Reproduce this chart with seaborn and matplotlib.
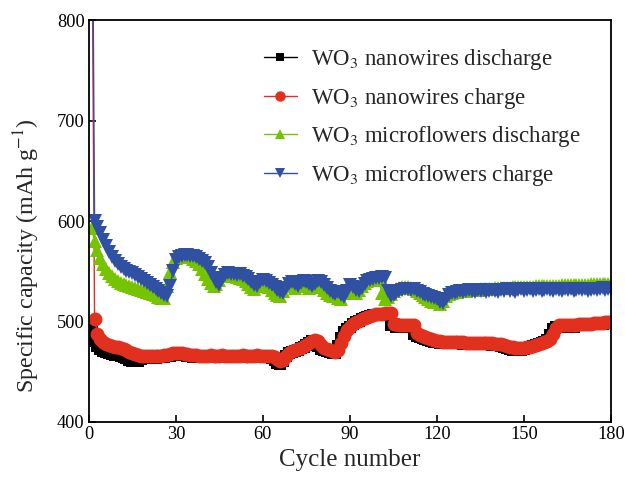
import matplotlib
matplotlib.use("Agg")
import matplotlib.pyplot as plt
import seaborn as sns
import numpy as np
import pandas as pd

cycles = list(range(1, 181))

nano_discharge = [
    492, 481, 476, 473, 471, 470, 469, 468, 467, 467,
    466, 465, 464, 462, 461, 461, 461, 463, 464, 464,
    464, 464, 464, 465, 465, 465, 466, 466, 467, 467,
    467, 467, 467, 466, 466, 465, 465, 465, 465, 465,
    465, 465, 465, 465, 465, 465, 465, 465, 465, 465,
    465, 465, 465, 465, 465, 465, 465, 465, 465, 465,
    465, 465, 464, 462, 459, 458, 461, 466, 469, 470,
    471, 472, 474, 475, 477, 479, 481, 480, 476, 473,
    472, 471, 470, 469, 469, 476, 484, 490, 493, 495,
    497, 499, 500, 502, 503, 504, 505, 506, 506, 506,
    507, 507, 507, 496, 496, 495, 495, 495, 495, 495,
    495, 488, 486, 485, 484, 483, 482, 481, 480, 480,
    479, 479, 479, 479, 479, 479, 479, 479, 478, 478,
    478, 478, 478, 478, 478, 478, 478, 478, 477, 477,
    477, 476, 475, 474, 473, 472, 472, 472, 472, 473,
    474, 475, 476, 477, 478, 479, 480, 482, 487, 493,
    495, 495, 495, 495, 495, 495, 495, 496, 496, 496,
    496, 496, 497, 497, 497, 497, 497, 498, 498, 498,
]

nano_charge = [
    950, 502, 488, 483, 480, 478, 477, 476, 475, 475,
    474, 473, 472, 470, 469, 468, 467, 466, 466, 466,
    466, 466, 466, 466, 466, 467, 467, 468, 469, 469,
    469, 469, 468, 468, 467, 467, 467, 466, 466, 466,
    466, 467, 466, 466, 466, 467, 466, 466, 466, 466,
    466, 466, 467, 466, 466, 466, 466, 467, 466, 466,
    466, 466, 466, 465, 463, 461, 462, 466, 469, 471,
    472, 473, 474, 476, 477, 479, 481, 482, 481, 477,
    474, 473, 472, 471, 470, 472, 479, 486, 492, 495,
    497, 499, 500, 502, 503, 504, 505, 506, 507, 507,
    507, 508, 508, 508, 497, 497, 496, 496, 496, 496,
    496, 496, 489, 487, 486, 485, 484, 483, 482, 481,
    481, 480, 480, 480, 480, 480, 480, 480, 480, 479,
    479, 479, 479, 479, 479, 479, 479, 479, 479, 478,
    478, 478, 477, 476, 475, 475, 474, 474, 474, 474,
    475, 475, 476, 477, 478, 479, 480, 481, 483, 488,
    494, 496, 496, 496, 496, 496, 496, 496, 497, 497,
    497, 497, 497, 498, 498, 498, 498, 499, 499, 499,
]

micro_discharge = [
    593, 580, 571, 563, 557, 552, 548, 545, 542, 540,
    538, 537, 536, 535, 534, 533, 532, 531, 530, 529,
    528, 527, 526, 524, 523, 523, 535, 549, 559, 563,
    565, 565, 565, 564, 564, 562, 560, 557, 552, 547,
    542, 538, 535, 537, 541, 545, 546, 546, 545, 545,
    544, 543, 542, 540, 537, 534, 532, 535, 538, 539,
    537, 534, 531, 528, 526, 525, 530, 535, 537, 535,
    533, 536, 538, 537, 535, 533, 535, 538, 537, 534,
    531, 528, 526, 525, 527, 523, 522, 528, 534, 532,
    529, 528, 531, 535, 538, 540, 541, 542, 542, 541,
    528, 522, 524, 527, 530, 532, 533, 534, 534, 534,
    533, 532, 530, 528, 526, 524, 522, 520, 519, 519,
    517, 520, 525, 527, 528, 529, 529, 530, 530, 530,
    531, 531, 531, 531, 532, 532, 532, 532, 532, 533,
    533, 533, 533, 533, 533, 534, 534, 534, 534, 534,
    534, 534, 534, 535, 535, 535, 535, 535, 535, 535,
    535, 535, 536, 536, 536, 536, 536, 536, 536, 536,
    536, 536, 537, 537, 537, 537, 537, 537, 537, 537,
]

micro_charge = [
    1050, 600, 594, 588, 581, 575, 569, 564, 560, 557,
    554, 552, 550, 549, 548, 546, 544, 542, 540, 538,
    536, 534, 532, 530, 528, 526, 525, 535, 550, 561,
    564, 565, 566, 566, 565, 565, 564, 562, 560, 558,
    554, 548, 543, 539, 536, 542, 546, 548, 547, 547,
    546, 547, 545, 544, 542, 539, 536, 535, 539, 541,
    540, 538, 536, 534, 531, 529, 528, 533, 537, 539,
    537, 535, 538, 540, 539, 537, 535, 537, 540, 539,
    536, 533, 530, 528, 527, 529, 526, 524, 530, 536,
    534, 531, 530, 533, 537, 540, 541, 542, 543, 543,
    544, 543, 530, 525, 526, 528, 530, 531, 532, 532,
    531, 532, 530, 529, 527, 526, 525, 524, 523, 522,
    519, 518, 522, 526, 528, 528, 529, 530, 529, 530,
    531, 530, 529, 531, 530, 531, 529, 530, 531, 530,
    529, 531, 530, 532, 530, 531, 529, 531, 532, 530,
    531, 532, 530, 531, 532, 530, 531, 532, 531, 530,
    532, 531, 530, 532, 531, 532, 530, 531, 532, 531,
    532, 530, 531, 532, 531, 532, 533, 531, 532, 532,
]

labels = [
    "WO$_3$ nanowires discharge",
    "WO$_3$ nanowires charge",
    "WO$_3$ microflowers discharge",
    "WO$_3$ microflowers charge",
]
x_ticks = [0, 30, 60, 90, 120, 150, 180]
y_ticks = [400, 500, 600, 700, 800]

sns.set_theme(style="white")
plt.rcParams["font.family"] = ["Liberation Serif", "DejaVu Serif"]
plt.rcParams["mathtext.fontset"] = "stix"

fig = plt.figure(figsize=(6.25, 4.8), dpi=100)
ax = fig.add_axes([0.142, 0.121, 0.836, 0.837])

series = [
    (nano_discharge, "#000000", "s", 8.5),
    (nano_charge, "#e2301f", "o", 10.0),
    (micro_discharge, "#76c400", "^", 10.5),
    (micro_charge, "#3050a4", "v", 10.5),
]
for (vals, col, mk, ms), lab in zip(series, labels):
    df = pd.DataFrame({"cycle": cycles, "cap": vals})
    sns.lineplot(data=df, x="cycle", y="cap", ax=ax, color=col, marker=mk,
                 markersize=ms, markeredgewidth=0, linewidth=1.0, label=lab,
                 clip_on=True)

ax.set_xlim(0, 180)
ax.set_ylim(400, 800)
ax.set_xticks(x_ticks)
ax.set_yticks(y_ticks)
ax.tick_params(axis="both", direction="in", length=5, width=1.2,
               labelsize=13.2, colors="black", pad=3,
               bottom=True, left=True, top=False, right=False)
for sp in ax.spines.values():
    sp.set_color("black")
    sp.set_linewidth(1.3)
ax.set_xlabel("Cycle number", fontsize=18, labelpad=4)
ax.set_ylabel("Specific capacity (mAh g$^{-1}$)", fontsize=17.3)
ax.yaxis.set_label_coords(-0.089, 0.415)
ax.grid(False)

leg = ax.legend(loc="upper left", bbox_to_anchor=(0.313, 0.962), frameon=False,
                fontsize=16.5, labelspacing=0.6, handlelength=1.45,
                handletextpad=0.6, borderpad=0, markerscale=0.75)

fig.savefig("out.png", dpi=100)
